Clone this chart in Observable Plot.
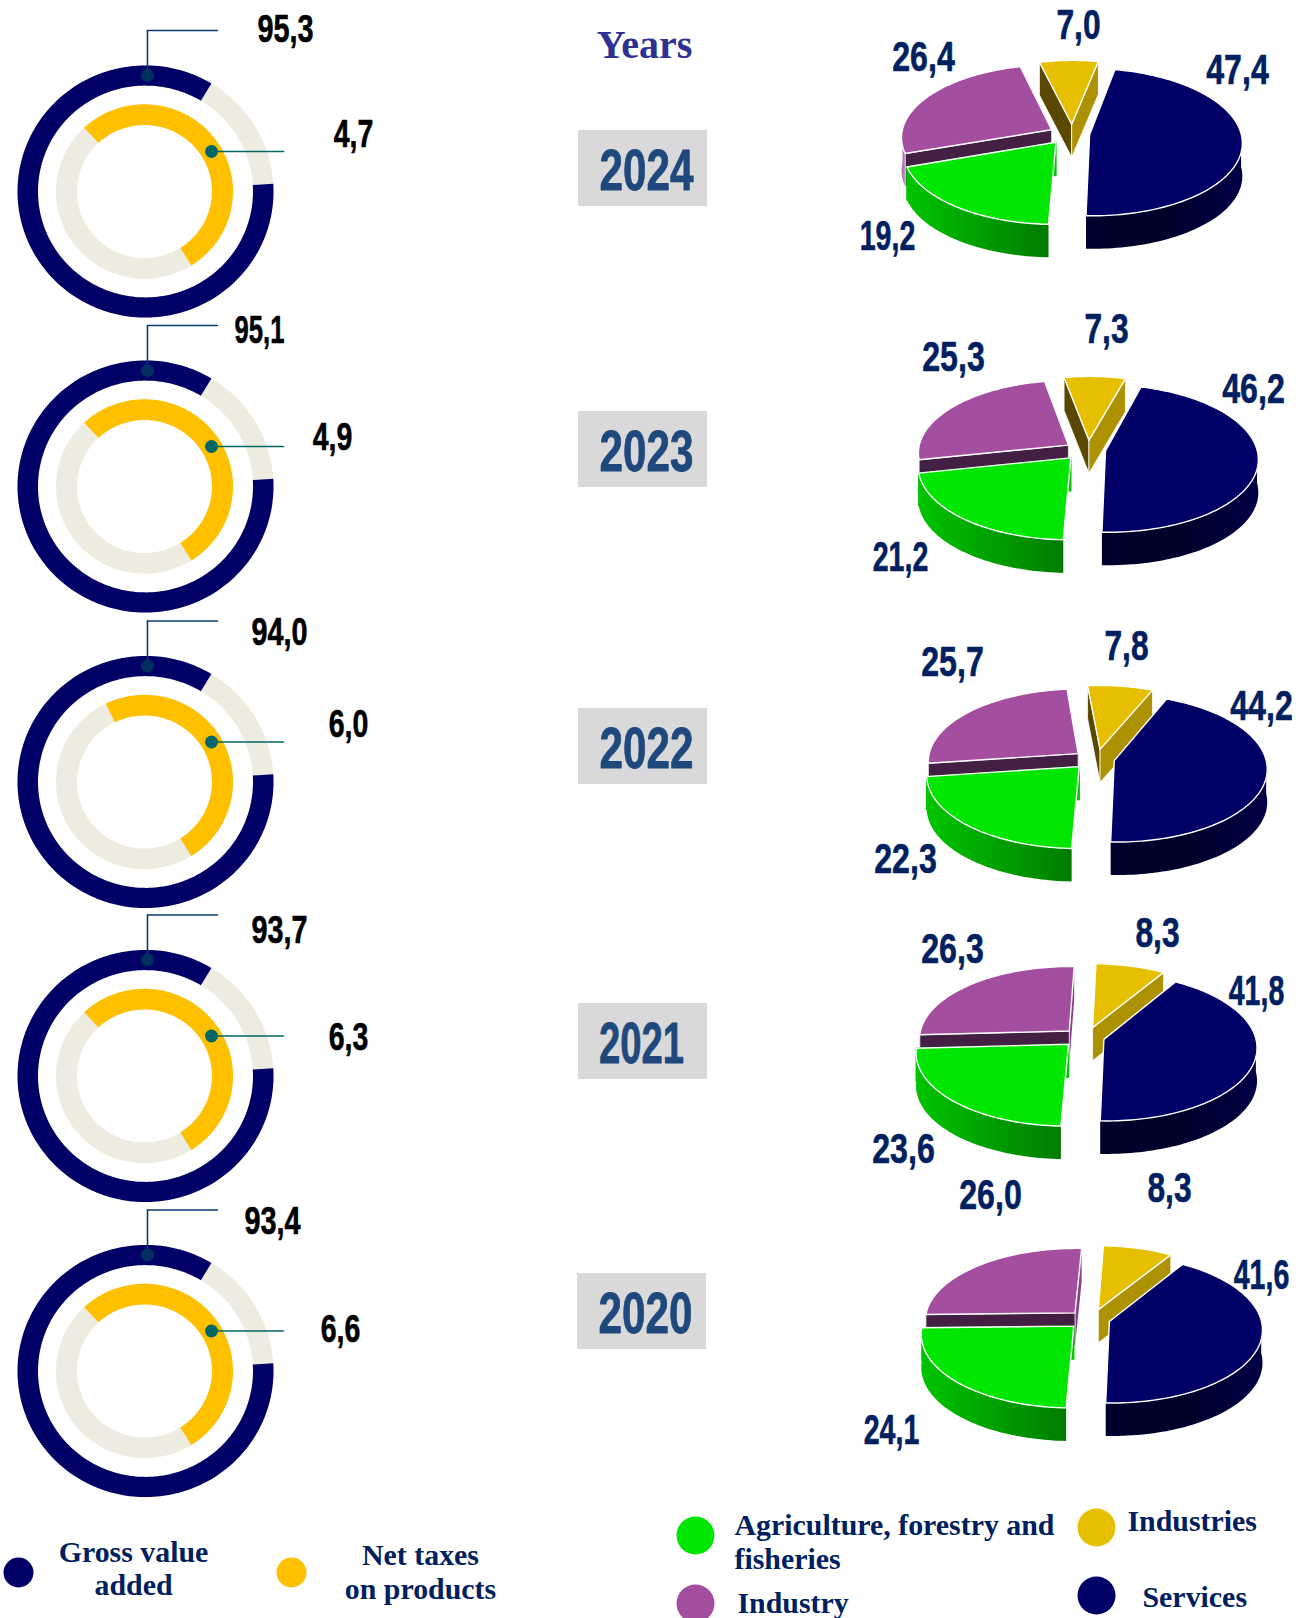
<!DOCTYPE html>
<html>
<head>
<meta charset="utf-8">
<style>
  html, body { margin: 0; padding: 0; background: #fff; }
  svg { display: block; }
</style>
<script src="https://cdn.jsdelivr.net/npm/d3@7"></script>
<script src="https://cdn.jsdelivr.net/npm/@observablehq/plot@0.6"></script>
</head>
<body>
<script>
// ---- data ----
const years = [2024, 2023, 2022, 2021, 2020];
const grossValueAdded = [95.3, 95.1, 94.0, 93.7, 93.4];
const netTaxes = [4.7, 4.9, 6.0, 6.3, 6.6];
const services = [47.4, 46.2, 44.2, 41.8, 41.6];
const agriculture = [19.2, 21.2, 22.3, 23.6, 24.1];
const industry = [26.4, 25.3, 25.7, 26.3, 26.0];
const industries = [7.0, 7.3, 7.8, 8.3, 8.3];

// ---- arcs as drawn in the picture (degrees clockwise from north) ----
const gvaArc = [86.5, 391];
const taxArcStart = [-43, -43, -26, -43, -43];
const taxArcEnd = 148;

// ---- layout ----
const W = 1300, H = 1618;
const donutCx = 145;
const donutCy = [191, 486, 781.5, 1075.5, 1370.5];
const yearBoxCy = [168, 449, 746, 1041, 1311];
const pieCentre = [[1068, 133], [1084, 449], [1093, 758], [1083, 1036], [1088.5, 1318]];
const gvaLabelPos = [[285, 29], [259, 330], [279, 632], [279, 930], [272, 1221]];
const taxLabelPos = [[353, 134], [332, 437], [348, 724], [348, 1037], [340, 1329]];
const servicesLabelPos = [[1237, 70], [1253, 389], [1261, 706], [1256, 991], [1261, 1275]];
const agricultureLabelPos = [[887, 236], [900, 557], [905, 859], [903, 1149], [891, 1430]];
const industryLabelPos = [[923, 57], [953, 357], [952, 662], [952, 949], [990, 1195]];
const industriesLabelPos = [[1078, 25], [1106, 329], [1126, 646], [1157, 933], [1169, 1188]];

const legendDots = [
  {x: 18, y: 1572, r: 15, c: "#000066"}, {x: 291, y: 1572, r: 15, c: "#ffc000"},
  {x: 695, y: 1535, r: 19, c: "#00e600"}, {x: 695, y: 1603, r: 19, c: "#a44ea0"},
  {x: 1096, y: 1527, r: 19, c: "#e6c000"}, {x: 1096, y: 1595, r: 19, c: "#000066"}
];
const legendCentred = [
  {t: "Gross value", x: 133, y: 1552}, {t: "added", x: 133, y: 1585},
  {t: "Net taxes", x: 420, y: 1555}, {t: "on products", x: 420, y: 1589}
];
const legendLeft = [
  {t: "Agriculture, forestry and", x: 734, y: 1525}, {t: "fisheries", x: 734, y: 1559},
  {t: "Industry", x: 737, y: 1603},
  {t: "Industries", x: 1127, y: 1521}, {t: "Services", x: 1142, y: 1597}
];

const NAVY = "#000066", BEIGE = "#eeece1", AMBER = "#ffc000";
const GREEN = "#00e600", PURPLE = "#a44ea0", GOLD = "#e6c000";
const fmt = v => v.toFixed(1).replace(".", ",");
const rad = d => d * Math.PI / 180;

// ---- helpers: turn values into outlines for the library's line mark ----
const poly = (pts, fill, stroke = "none", strokeWidth = 0) =>
  Plot.line([...pts, pts[0]], {x: "x", y: "y", fill, stroke, strokeWidth, strokeLinejoin: "round"});

const DONUT_SQUASH = 0.985;
function ring(cx, cy, r0, r1, a0, a1) {
  const n = Math.max(2, Math.ceil(Math.abs(a1 - a0) / 1.5));
  const seq = d3.range(n + 1).map(i => a0 + (a1 - a0) * i / n);
  const p = (r, a) => ({x: cx + r * Math.sin(rad(a)), y: cy - DONUT_SQUASH * r * Math.cos(rad(a))});
  return [...seq.map(a => p(r1, a)), ...seq.reverse().map(a => p(r0, a))];
}

// perspective pie
const PIE_R = 150, PIE_Q = 72, PIE_K = 0.1, PIE_DEPTH = 33, PIE_ROT = 182;
function project(c, X, Y) {
  const s = 1 / (1 - PIE_K * Y);
  return {x: c[0] + PIE_R * X * s, y: c[1] + PIE_Q * Y * s};
}
const drop = p => ({x: p.x, y: p.y + PIE_DEPTH});

function slice(c0, a0, a1, explode, rScale = 1, nudge = 0) {
  const c = [c0[0] + nudge, c0[1]];
  const mid = rad((a0 + a1) / 2);
  const ox = explode * Math.sin(mid), oy = -explode * Math.cos(mid);
  const apex = project(c, ox, oy);
  const n = Math.ceil((a1 - a0) / 1.5);
  const arc = d3.range(n + 1).map(i => {
    const a = a0 + (a1 - a0) * i / n;
    return {a, p: project(c, ox + rScale * Math.sin(rad(a)), oy - rScale * Math.cos(rad(a)))};
  });
  const front = arc.filter(d => Math.cos(rad(d.a)) < 0.02).map(d => d.p);
  const top = [apex, ...arc.map(d => d.p)];
  const first = arc[0].p, last = arc[arc.length - 1].p;
  return {
    top,
    rim: front.length > 1 ? [...front, ...front.slice().reverse().map(drop)] : null,
    startFace: [apex, first, drop(first), drop(apex)],
    endFace: [apex, last, drop(last), drop(apex)]
  };
}

function pieMarks(i) {
  const c = pieCentre[i];
  const aServ = PIE_ROT - services[i] * 3.6;
  const aAgri = PIE_ROT + agriculture[i] * 3.6;
  const aInd = aAgri + industry[i] * 3.6;
  const aIndies = aInd + industries[i] * 3.6;
  const sv = slice(c, aServ, PIE_ROT, 0.138, 1.01, 0.5);
  const ag = slice(c, PIE_ROT, aAgri, 0.15, 1, 1);
  const id = slice(c, aAgri, aInd, 0.11, 1, -2.5);
  const ds = slice(c, aInd, aIndies, 0.13, 1, 3.6);
  const m = [];
  // gold
  m.push(poly(ds.startFace, "#5a4700", "#fff", 0.8));
  m.push(poly(ds.endFace, "#ac9100", "#fff", 0.8));
  m.push(poly(ds.top, GOLD, "#fff", 1.4));
  // purple
  m.push(poly(id.endFace, "#8a3f8a"));
  if (id.rim) m.push(poly(id.rim, "#b078ae"));
  m.push(poly(id.startFace, "#441f44", "#fff", 0.8));
  m.push(poly(id.top, PURPLE, "#fff", 1.4));
  // navy
  if (sv.rim) m.push(poly(sv.rim, "url(#navySide)"));
  m.push(poly(sv.top, NAVY, "#fff", 1.4));
  // green
  m.push(poly(ag.endFace, "#00c800", "#00c800", 1.4));
  if (ag.rim) m.push(poly(ag.rim, "url(#greenSide)"));
  m.push(poly(ag.top, GREEN, "#fff", 1.4));
  return m;
}

function gradient(defs, id, stops) {
  const g = defs.append("linearGradient").attr("id", id)
    .attr("x1", "0").attr("x2", "1").attr("y1", "0").attr("y2", "0");
  stops.forEach(([o, col]) => g.append("stop").attr("offset", o).attr("stop-color", col));
}
const defsMark = () => {
  const defs = d3.create("svg:defs");
  gradient(defs, "greenSide", [[0, "#00c400"], [1, "#007c00"]]);
  gradient(defs, "navySide", [[0, "#00002e"], [0.5, "#00002a"], [1, "#000046"]]);
  return defs.node();
};

const marks = [defsMark];

// donuts
years.forEach((yr, i) => {
  const cy = donutCy[i];
  marks.push(poly(ring(donutCx, cy, 107.5, 128, 0, 360), BEIGE));
  marks.push(poly(ring(donutCx, cy, 107.5, 128, gvaArc[0], gvaArc[1]), NAVY));
  marks.push(poly(ring(donutCx - 1, cy, 67.5, 88.5, 0, 360), BEIGE));
  marks.push(poly(ring(donutCx - 1, cy, 67.5, 88.5, taxArcStart[i], taxArcEnd), AMBER));
  marks.push(Plot.line([[147, cy - 161], [217, cy - 161]], {stroke: "#0b3c6f", strokeWidth: 1.6}));
  marks.push(Plot.line([[147, cy - 161], [147, cy - 116]], {stroke: "#0b3c6f", strokeWidth: 1.6}));
  marks.push(Plot.line([[211, cy - 40], [283, cy - 40]], {stroke: "#006666", strokeWidth: 1.6}));
  marks.push(Plot.dot([[147, cy - 116]], {r: 6.5, fill: "#003060"}));
  marks.push(Plot.dot([[211, cy - 40]], {r: 6.5, fill: "#006666"}));
});

// pies
years.forEach((yr, i) => marks.push(...pieMarks(i)));

// year boxes
marks.push(Plot.rect(yearBoxCy, {
  x1: (d, i) => i === 4 ? 577 : 578, x2: (d, i) => i === 4 ? 706 : 707,
  y1: d => d - 38, y2: d => d + 38, fill: "#d9d9d9"
}));

// widths of the narrow display face: a digit takes one unit, "1" and "," less
const units = s => d3.sum(Array.from(s), ch => ch === "1" ? 0.62 : ch === "," ? 0.4 : 1);
const UNIT_YEAR = 23.5, UNIT_LEFT = 16.5, UNIT_RIGHT = 18.4;

const condensed = {fontFamily: "'Liberation Sans', sans-serif", fontWeight: 700, lineAnchor: "middle"};
marks.push(Plot.text(years.map((y, i) => ({y, cy: yearBoxCy[i], i})), {
  x: d => d.y === 2021 ? 641 : d.i === 4 ? 645 : 646, y: d => d.cy + 3, text: d => String(d.y),
  fill: "#1f497d", stroke: "#1f497d", strokeWidth: 0.8, fontSize: 58, ...condensed, className: "cond-year"
}));

const labelRows = (vals, pos) => vals.map((v, i) => ({t: fmt(v), x: pos[i][0], y: pos[i][1]}));
marks.push(Plot.text([...labelRows(grossValueAdded, gvaLabelPos), ...labelRows(netTaxes, taxLabelPos)], {
  x: "x", y: "y", text: "t", fill: "#000", stroke: "#000", strokeWidth: 0.6, fontSize: 39, ...condensed, className: "cond-left"
}));
marks.push(Plot.text([
  ...labelRows(agriculture, agricultureLabelPos),
  ...labelRows(industry, industryLabelPos), ...labelRows(industries, industriesLabelPos)
], {x: "x", y: "y", text: "t", fill: "#002060", stroke: "#002060", strokeWidth: 0.6, fontSize: 43, ...condensed, className: "cond-right"}));
// the services labels sit against the right edge, so they are anchored on their right end
marks.push(Plot.text(labelRows(services, servicesLabelPos), {
  x: d => d.x + units(d.t) * UNIT_RIGHT / 2, y: "y", text: "t", textAnchor: "end",
  fill: "#002060", stroke: "#002060", strokeWidth: 0.6, fontSize: 43, ...condensed, className: "cond-right"
}));

marks.push(Plot.text(["Years"], {
  x: () => 644, y: () => 45, text: d => d, fill: "#2e3192", fontSize: 40,
  fontFamily: "'Liberation Serif', serif", fontWeight: 700, lineAnchor: "middle"
}));

// legend
marks.push(Plot.dot(legendDots, {x: "x", y: "y", r: d => d.r, fill: d => d.c}));
const legendFont = {
  x: "x", y: "y", text: "t", fill: "#002060", fontSize: 29,
  fontFamily: "'Liberation Serif', serif", fontWeight: 700, lineAnchor: "middle", className: "cond-legend"
};
marks.push(Plot.text(legendCentred, {...legendFont, textAnchor: "middle"}));
marks.push(Plot.text(legendLeft, {...legendFont, textAnchor: "start"}));

const chart = Plot.plot({
  width: W, height: H, margin: 0,
  x: {domain: [0, W], range: [0, W], axis: null},
  y: {domain: [0, H], range: [0, H], axis: null},
  r: {type: "identity"},
  color: {type: "identity"},
  style: {background: "#fff", overflow: "hidden"},
  marks
});
document.body.appendChild(chart);

const fitDigits = (cls, unit) => chart.querySelectorAll(`.${cls} text`).forEach(t => {
  t.setAttribute("textLength", units(t.textContent) * unit);
  t.setAttribute("lengthAdjust", "spacingAndGlyphs");
});
fitDigits("cond-year", UNIT_YEAR);
fitDigits("cond-left", UNIT_LEFT);
fitDigits("cond-right", UNIT_RIGHT);
chart.querySelectorAll(".cond-legend text").forEach(t => {
  t.setAttribute("textLength", t.getComputedTextLength() * 1.03);
  t.setAttribute("lengthAdjust", "spacingAndGlyphs");
});
</script>
</body>
</html>
